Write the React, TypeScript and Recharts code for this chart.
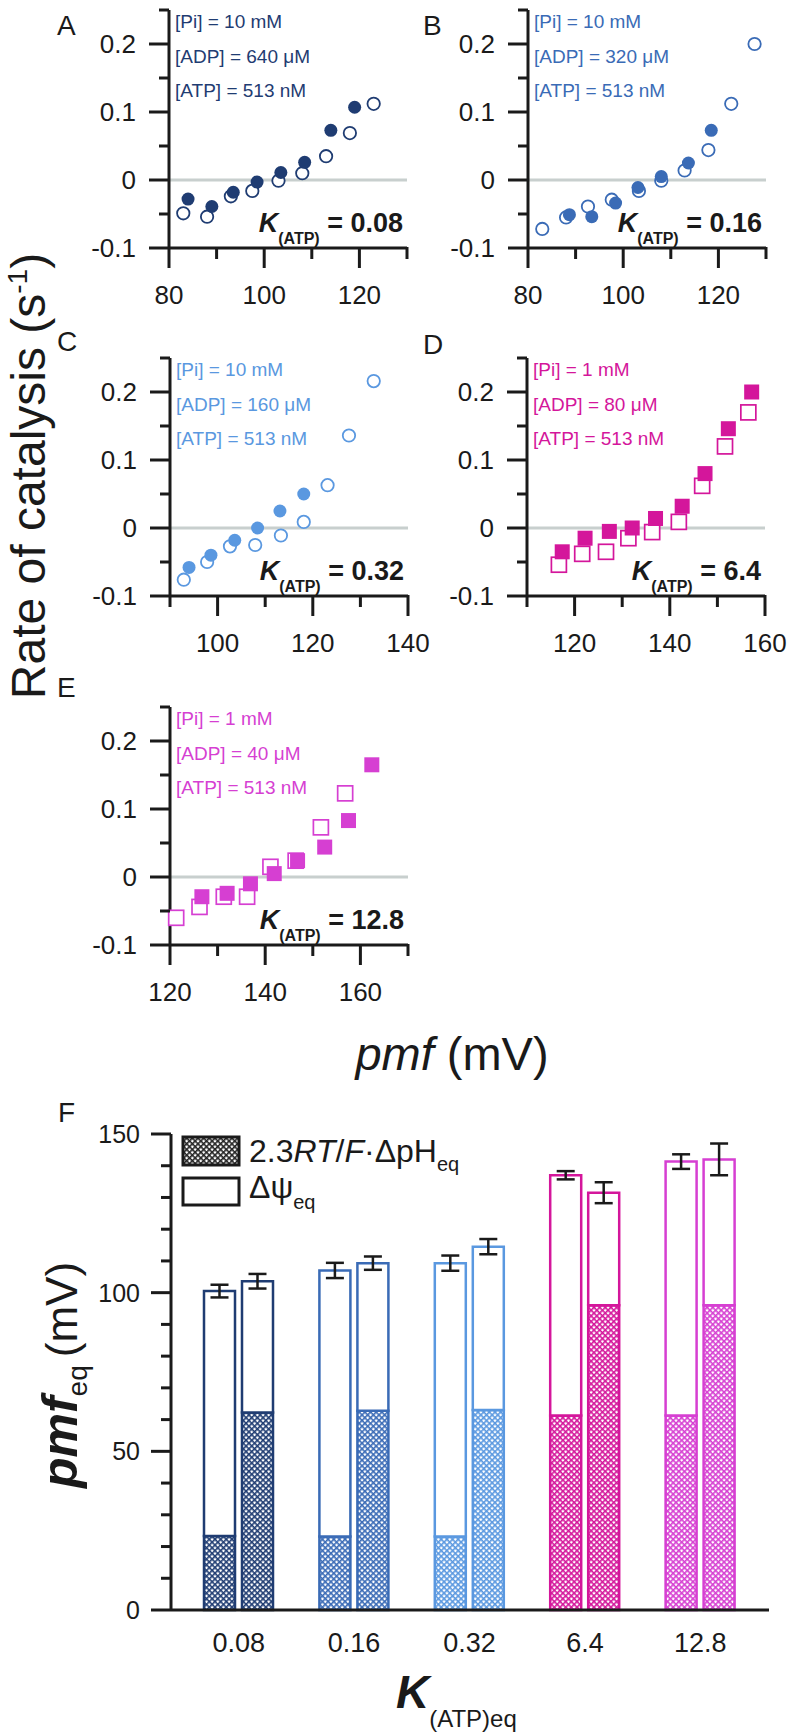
import React from 'react';
import { ScatterChart, Scatter, XAxis, YAxis, ReferenceLine, BarChart, Bar, Cell, ErrorBar } from 'recharts';

// ---- panels A-E: rate of catalysis vs pmf ----
// open = first symbol set, filled = second symbol set
const aOpenX = [83, 88, 93, 97.5, 103, 108, 113, 118, 123];
const aOpenY = [-0.049, -0.054, -0.024, -0.016, -0.001, 0.01, 0.035, 0.069, 0.112];
const aFilledX = [84, 89, 93.5, 98.5, 103.5, 108.5, 114, 119];
const aFilledY = [-0.028, -0.039, -0.018, -0.003, 0.011, 0.026, 0.073, 0.107];

const bOpenX = [83, 88, 92.6, 97.6, 103.3, 108, 112.9, 117.9, 122.7, 127.6];
const bOpenY = [-0.072, -0.055, -0.039, -0.029, -0.016, -0.001, 0.014, 0.044, 0.112, 0.2];
const bFilledX = [88.7, 93.4, 98.4, 103.1, 108, 113.7, 118.5];
const bFilledY = [-0.051, -0.054, -0.034, -0.011, 0.005, 0.025, 0.073];

const cOpenX = [92.9, 97.8, 102.6, 107.9, 113.3, 118.1, 123.1, 127.6, 132.8];
const cOpenY = [-0.076, -0.05, -0.027, -0.025, -0.011, 0.009, 0.063, 0.136, 0.216];
const cFilledX = [94, 98.6, 103.6, 108.4, 113.1, 118.1];
const cFilledY = [-0.058, -0.04, -0.018, 0, 0.025, 0.05];

const dOpenX = [116.7, 121.6, 126.6, 131.3, 136.3, 141.9, 146.8, 151.6, 156.5];
const dOpenY = [-0.054, -0.038, -0.035, -0.015, -0.006, 0.009, 0.062, 0.12, 0.17];
const dFilledX = [117.4, 122.2, 127.3, 132.1, 137, 142.6, 147.4, 152.3, 157.2];
const dFilledY = [-0.035, -0.015, -0.005, 0, 0.014, 0.032, 0.08, 0.146, 0.2];

const eOpenX = [121.3, 126.2, 131.3, 136.2, 141.1, 146.4, 151.7, 156.8];
const eOpenY = [-0.06, -0.044, -0.029, -0.029, 0.015, 0.024, 0.073, 0.123];
const eFilledX = [126.7, 132, 136.9, 141.9, 146.8, 152.5, 157.5, 162.4];
const eFilledY = [-0.029, -0.024, -0.01, 0.005, 0.024, 0.044, 0.083, 0.165];

const rateTicks = [-0.1, -0.05, 0, 0.05, 0.1, 0.15, 0.2, 0.25];
const rateLabels = [-0.1, 0, 0.1, 0.2];

const pmfTicksAB = [80, 90, 100, 110, 120, 130];
const pmfLabelsAB = [80, 100, 120];
const pmfTicksC = [90, 100, 110, 120, 130, 140];
const pmfLabelsC = [100, 120, 140];
const pmfTicksD = [110, 120, 130, 140, 150, 160];
const pmfTicksE = [120, 130, 140, 150, 160, 170];
const pmfLabelsDE = [120, 140, 160];

// ---- panel F: pmf_eq bars ----
const kCategories = ['0.08', '0.16', '0.32', '6.4', '12.8'];
const leftTotal = [100.5, 107, 109.3, 137, 141.3];
const leftPH = [23.3, 23.2, 23.2, 61.3, 61.3];
const leftErr = [2, 2.4, 2.4, 1.3, 2.3];
const rightTotal = [103.6, 109.3, 114.5, 131.5, 142];
const rightPH = [62.2, 62.8, 63, 96, 96];
const rightErr = [2.3, 2.1, 2.4, 3.3, 5];
const eqTicks = [0, 10, 20, 30, 40, 50, 60, 70, 80, 90, 100, 110, 120, 130, 140, 150];
const eqLabels = [0, 50, 100, 150];

const kColors = ['#1f3c72', '#3a6bb6', '#5a98e0', '#d4169b', '#d63fd2'];

const FONT = "'Liberation Sans', Arial, Helvetica, sans-serif";
const INK = '#1a1a1a';
const ZERO_LINE = '#c8cfce';
const PLOT = 238;

const pts = (xs: number[], ys: number[]) => xs.map((x, i) => ({ x, y: ys[i] }));

const barTable = kCategories.map((k, i) => ({
  k,
  pH1: leftPH[i],
  psi1: leftTotal[i] - leftPH[i],
  err1: leftErr[i],
  pH2: rightPH[i],
  psi2: rightTotal[i] - rightPH[i],
  err2: rightErr[i],
}));

const panels = [
  { letter: 'A', color: kColors[0], square: false, px: 169, py: 10, lx: 57, ly: 35, xDomain: [80, 130], xTicks: pmfTicksAB, xLabels: pmfLabelsAB,
    open: pts(aOpenX, aOpenY), filled: pts(aFilledX, aFilledY), conds: ['[Pi] = 10 mM', '[ADP] = 640 μM', '[ATP] = 513 nM'], k: '0.08' },
  { letter: 'B', color: kColors[1], square: false, px: 528, py: 10, lx: 423, ly: 35, xDomain: [80, 130], xTicks: pmfTicksAB, xLabels: pmfLabelsAB,
    open: pts(bOpenX, bOpenY), filled: pts(bFilledX, bFilledY), conds: ['[Pi] = 10 mM', '[ADP] = 320 μM', '[ATP] = 513 nM'], k: '0.16' },
  { letter: 'C', color: kColors[2], square: false, px: 170, py: 358, lx: 57, ly: 351, xDomain: [90, 140], xTicks: pmfTicksC, xLabels: pmfLabelsC,
    open: pts(cOpenX, cOpenY), filled: pts(cFilledX, cFilledY), conds: ['[Pi] = 10 mM', '[ADP] = 160 μM', '[ATP] = 513 nM'], k: '0.32' },
  { letter: 'D', color: kColors[3], square: true, px: 527, py: 358, lx: 423, ly: 354, xDomain: [110, 160], xTicks: pmfTicksD, xLabels: pmfLabelsDE,
    open: pts(dOpenX, dOpenY), filled: pts(dFilledX, dFilledY), conds: ['[Pi] = 1 mM', '[ADP] = 80 μM', '[ATP] = 513 nM'], k: '6.4' },
  { letter: 'E', color: kColors[4], square: true, px: 170, py: 707, lx: 57, ly: 697, xDomain: [120, 170], xTicks: pmfTicksE, xLabels: pmfLabelsDE,
    open: pts(eOpenX, eOpenY), filled: pts(eFilledX, eFilledY), conds: ['[Pi] = 1 mM', '[ADP] = 40 μM', '[ATP] = 513 nM'], k: '12.8' },
];

const near = (list: number[], v: number) => list.some((l) => Math.abs(l - v) < 1e-9);

// axes get a 1px band (recharts skips zero-size axes), so ticks start 1px off the line
const xTick = (labels: number[]) => (props: any) => {
  const { x, payload } = props;
  const y = props.y - 1;
  const major = near(labels, payload.value);
  return (
    <g>
      <line x1={x} y1={y} x2={x} y2={y + (major ? 21 : 12)} stroke={INK} strokeWidth={3} />
      {major && (
        <text x={x} y={y + 57} textAnchor="middle" fontSize={26} fontFamily={FONT} fill={INK}>
          {payload.value}
        </text>
      )}
    </g>
  );
};

const yTick = (labels: number[], size: number, gap: number) => (props: any) => {
  const { x, y, payload } = props;
  const v = payload.value;
  const major = near(labels, v);
  return (
    <g>
      <line x1={x} y1={y} x2={x - (major ? 20 : 10)} y2={y} stroke={INK} strokeWidth={3} />
      {major && (
        <text x={x - gap} y={y + size * 0.36} textAnchor="end" fontSize={size} fontFamily={FONT} fill={INK}>
          {Math.abs(v) < 1e-9 ? '0' : String(v)}
        </text>
      )}
    </g>
  );
};

const barXTick = (props: any) => {
  const { x, payload } = props;
  const y = props.y - 1;
  return (
    <text x={x} y={y + 43} textAnchor="middle" fontSize={27} fontFamily={FONT} fill={INK}>
      {payload.value}
    </text>
  );
};

const markShape = (color: string, square: boolean, filled: boolean) => (p: any) => {
  if (square) {
    const s = 15;
    return (
      <rect x={p.cx - s / 2} y={p.cy - s / 2} width={s} height={s}
        fill={filled ? color : '#fff'} stroke={color} strokeWidth={filled ? 0 : 1.7} />
    );
  }
  return filled
    ? <circle cx={p.cx} cy={p.cy} r={6.5} fill={color} />
    : <circle cx={p.cx} cy={p.cy} r={6.2} fill="#fff" stroke={color} strokeWidth={1.8} />;
};

function ScatterPanel({ p }: { p: any }) {
  return (
    <div style={{ position: 'absolute', left: p.px - 80, top: p.py - 10 }}>
      <ScatterChart width={PLOT + 106} height={PLOT + 82} margin={{ top: 10, left: 79, right: 26, bottom: 71 }}>
        <XAxis type="number" dataKey="x" domain={p.xDomain} ticks={p.xTicks} interval={0}
          height={1} tickSize={0} tickMargin={0} tickLine={false}
          axisLine={{ stroke: INK, strokeWidth: 3 }} tick={xTick(p.xLabels)} />
        <YAxis type="number" dataKey="y" domain={[-0.1, 0.25]} ticks={rateTicks} interval={0}
          width={1} tickSize={0} tickMargin={0} tickLine={false}
          axisLine={{ stroke: INK, strokeWidth: 3 }} tick={yTick(rateLabels, 26, 33)} />
        <ReferenceLine y={0} stroke={ZERO_LINE} strokeWidth={3} />
        <Scatter data={p.open} shape={markShape(p.color, p.square, false)} isAnimationActive={false} />
        <Scatter data={p.filled} shape={markShape(p.color, p.square, true)} isAnimationActive={false} />
      </ScatterChart>
    </div>
  );
}

function PmfBars() {
  return (
    <div style={{ position: 'absolute', left: 0, top: 1080 }}>
      <BarChart width={793} height={653} data={barTable} margin={{ top: 54, left: 170, right: 24, bottom: 122 }}
        barSize={31} barGap={7}>
        <XAxis dataKey="k" type="category" height={1} tickSize={0} tickMargin={0} tickLine={false} interval={0}
          padding={{ left: 10, right: 11 }} axisLine={{ stroke: INK, strokeWidth: 3 }} tick={barXTick} />
        <YAxis type="number" domain={[0, 150]} ticks={eqTicks} interval={0} width={1}
          tickSize={0} tickMargin={0} tickLine={false} axisLine={{ stroke: INK, strokeWidth: 3 }}
          tick={yTick(eqLabels, 25, 31)} />
        <Bar dataKey="pH1" stackId="left" isAnimationActive={false} strokeWidth={2.5}>
          {kCategories.map((k, i) => <Cell key={k} fill={`url(#hatch-${i})`} stroke={kColors[i]} />)}
        </Bar>
        <Bar dataKey="psi1" stackId="left" isAnimationActive={false} strokeWidth={2.5}>
          {kCategories.map((k, i) => <Cell key={k} fill="#fff" stroke={kColors[i]} />)}
          <ErrorBar dataKey="err1" width={9} stroke={INK} strokeWidth={2.5} direction="y" />
        </Bar>
        <Bar dataKey="pH2" stackId="right" isAnimationActive={false} strokeWidth={2.5}>
          {kCategories.map((k, i) => <Cell key={k} fill={`url(#hatch-${i})`} stroke={kColors[i]} />)}
        </Bar>
        <Bar dataKey="psi2" stackId="right" isAnimationActive={false} strokeWidth={2.5}>
          {kCategories.map((k, i) => <Cell key={k} fill="#fff" stroke={kColors[i]} />)}
          <ErrorBar dataKey="err2" width={9} stroke={INK} strokeWidth={2.5} direction="y" />
        </Bar>
      </BarChart>
    </div>
  );
}

const Hatch = ({ id, color }: { id: string; color: string }) => (
  <pattern id={id} width={4} height={4} patternUnits="userSpaceOnUse" patternTransform="rotate(45)">
    <rect width={4} height={4} fill="#fff" />
    <rect width={4} height={1.6} fill={color} />
    <rect width={1.6} height={4} fill={color} />
  </pattern>
);

function Annotations() {
  return (
    <svg width={793} height={1733} style={{ position: 'absolute', left: 0, top: 0, pointerEvents: 'none' }}
      fontFamily={FONT}>
      <defs>
        {kColors.map((c, i) => <Hatch key={c} id={`hatch-${i}`} color={c} />)}
        <Hatch id="hatch-legend" color="#222" />
      </defs>

      {panels.map((p) => (
        <g key={p.letter}>
          <text x={p.lx} y={p.ly} fontSize={28} fill={INK}>{p.letter}</text>
          {p.conds.map((c: string, j: number) => (
            <text key={c} x={p.px + 6} y={p.py + 18 + j * 34.5} fontSize={19} fill={p.color}>{c}</text>
          ))}
          <text x={p.px + 234} y={p.py + 222} textAnchor="end" fontSize={27} fontWeight="bold" fill={INK}>
            <tspan fontStyle="italic">K</tspan>
            <tspan fontSize={16} dy={12}>(ATP)</tspan>
            <tspan dy={-12}>{` = ${p.k}`}</tspan>
          </text>
        </g>
      ))}

      <text transform="translate(45,476) rotate(-90)" textAnchor="middle" fontSize={48} fill={INK}>
        Rate of catalysis (s<tspan fontSize={28} dy={-18}>-1</tspan><tspan dy={18}>)</tspan>
      </text>
      <text x={452} y={1070} textAnchor="middle" fontSize={47} fill={INK}>
        <tspan fontStyle="italic">pmf</tspan> (mV)
      </text>

      <text x={58} y={1122} fontSize={28} fill={INK}>F</text>
      <rect x={183} y={1137} width={56} height={28} fill="url(#hatch-legend)" stroke={INK} strokeWidth={3} />
      <rect x={183} y={1178} width={56} height={27} fill="#fff" stroke={INK} strokeWidth={3} />
      <text x={249} y={1162} fontSize={32} fill={INK}>
        2.3<tspan fontStyle="italic">RT</tspan>/<tspan fontStyle="italic">F</tspan>·ΔpH
        <tspan fontSize={20} dy={9}>eq</tspan>
      </text>
      <text x={249} y={1198} fontSize={32} fill={INK}>
        Δψ<tspan fontSize={20} dy={11}>eq</tspan>
      </text>

      <text transform="translate(77,1375) rotate(-90)" textAnchor="middle" fontSize={44} fill={INK}>
        <tspan fontSize={50} fontWeight="bold" fontStyle="italic">pmf</tspan>
        <tspan fontSize={28} dy={10}>eq</tspan>
        <tspan dy={-10} dx={8}>(mV)</tspan>
      </text>
      <text x={396} y={1708} fontSize={46} fontWeight="bold" fontStyle="italic" fill={INK}>
        K<tspan fontSize={24} fontWeight="normal" fontStyle="normal" dy={19}>(ATP)eq</tspan>
      </text>
    </svg>
  );
}

export default function App() {
  return (
    <div style={{ position: 'absolute', left: 0, top: 0, width: 793, height: 1733, overflow: 'hidden', background: '#fff', fontFamily: FONT }}>
      {panels.map((p) => <ScatterPanel key={p.letter} p={p} />)}
      <PmfBars />
      <Annotations />
    </div>
  );
}
